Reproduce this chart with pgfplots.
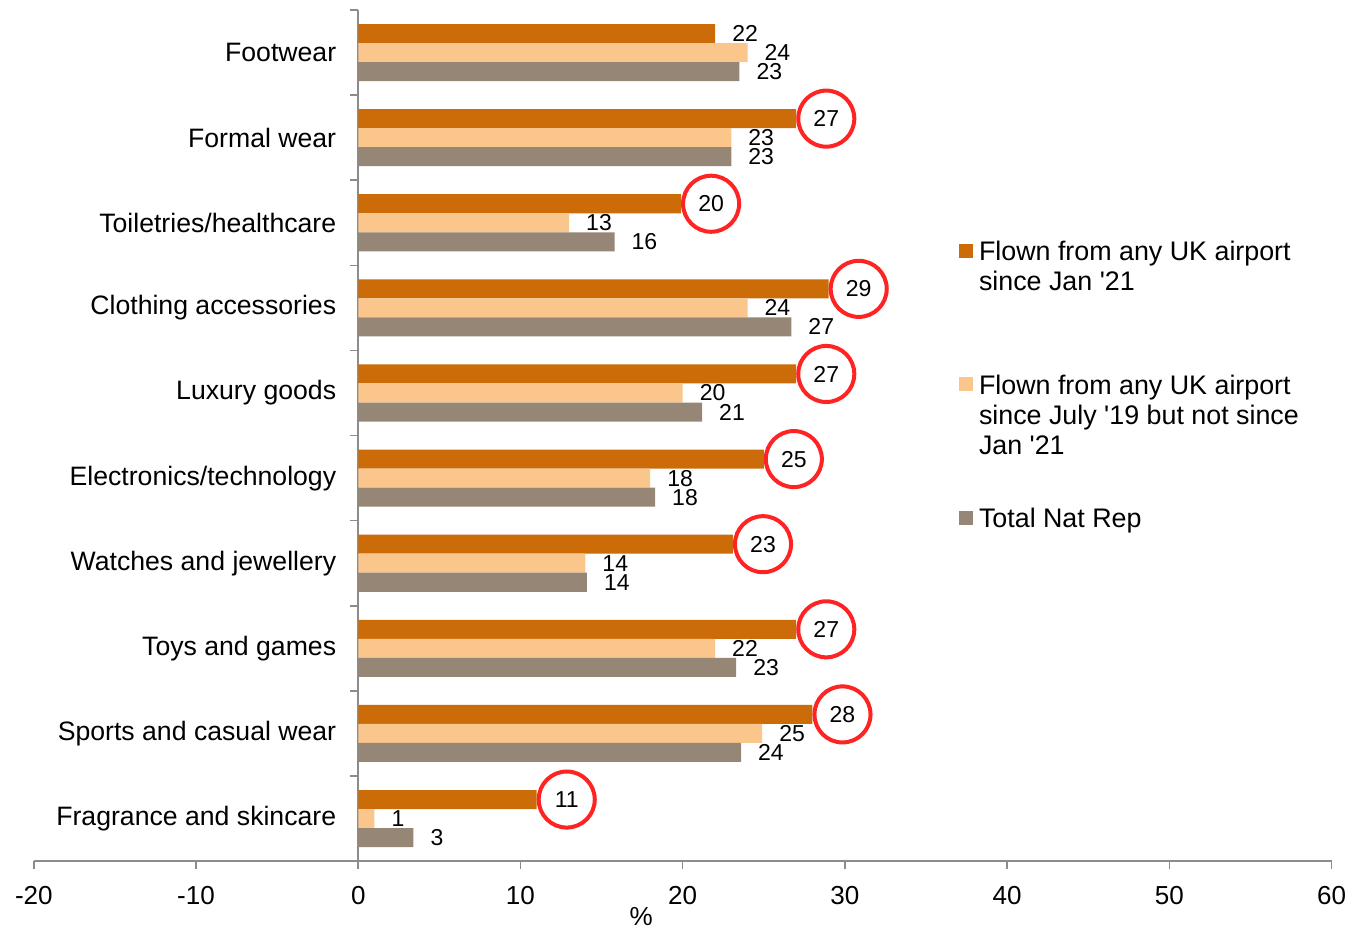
\documentclass[border=0pt]{standalone}
\usepackage{fontspec}
\setmainfont{Liberation Sans}[Ligatures=TeXOff]
\usepackage{pgfplots}
\usepackage{pgfplotstable}
\pgfplotsset{compat=1.18}

\definecolor{sinceJan}{HTML}{CC6C08}
\definecolor{sinceJul}{HTML}{FAC68C}
\definecolor{natrep}{HTML}{958676}
\definecolor{ring}{HTML}{FF2424}
\definecolor{axisgray}{HTML}{8C8C8C}

% idx 0 = bottom category (Fragrance), 9 = top (Footwear)
\pgfplotstableread{
idx val  lab circ
0   11   11  1
1   28   28  1
2   27   27  1
3   23.1 23  1
4   25   25  1
5   27   27  1
6   29   29  1
7   19.9 20  1
8   27   27  1
9   22   22  0
}\jan

\pgfplotstableread{
idx val  lab
0   1    1
1   24.9 25
2   22   22
3   14   14
4   18   18
5   20   20
6   24   24
7   13   13
8   23   23
9   24   24
}\jul

\pgfplotstableread{
idx val  lab
0   3.4  3
1   23.6 24
2   23.3 23
3   14.1 14
4   18.3 18
5   21.2 21
6   26.7 27
7   15.8 16
8   23   23
9   23.5 23
}\nat

\begin{document}
\begin{tikzpicture}
\begin{axis}[
    scale only axis, width=648pt, height=425pt,
    xbar, bar width=9.5pt,
    xmin=-20, xmax=60, ymin=-0.5, ymax=9.5,
    axis x line=bottom, axis y line=center,
    axis line style={-, draw=axisgray, line width=0.8pt},
    hide obscured x ticks=false, hide obscured y ticks=false,
    tick align=outside,
    xtick={-20,-10,...,60},
    major tick length=4pt, minor tick length=4pt,
    x tick style={draw=axisgray, line width=0.8pt},
    ytick={0,...,9},
    major y tick style={draw=none},
    minor ytick={-0.5,0.5,...,9.5},
    minor y tick style={draw=axisgray, line width=0.8pt},
    yticklabels={Fragrance and skincare,Sports and casual wear,Toys and games,Watches and jewellery,Electronics/technology,Luxury goods,Clothing accessories,Toiletries/healthcare,Formal wear,Footwear},
    yticklabel style={font=\fontsize{13.3}{15}\selectfont, xshift=-3.5pt},
    xticklabel style={font=\fontsize{13}{15}\selectfont, yshift=-5pt, inner xsep=0pt},
    /pgf/number format/assume math mode=true,
    xlabel={\%},
    xlabel style={at={(axis description cs:0.468,0)}, anchor=north, inner sep=0pt,
        yshift=-23pt, font=\fontsize{13}{15}\selectfont},
    legend style={at={(0.7126,0.7335)}, anchor=north west, draw=none, fill=none,
        font=\fontsize{13.4}{15}\selectfont, row sep=51.5pt, inner sep=0pt,
        cells={anchor=base west},
        /tikz/every odd column/.append style={column sep=1pt}},
    legend image code/.code={\fill[#1] (0pt,1.5pt) rectangle (7pt,8.5pt);},
    clip=false,
]
\addplot[fill=sinceJan, draw=none, bar shift=9.5pt,
    point meta=explicit symbolic,
    visualization depends on={\thisrow{circ} \as \circop},
    nodes near coords,
    every node near coord/.append style={circle, minimum size=28pt, inner sep=0pt,
        anchor=west, line width=2pt, draw=ring, draw opacity=\circop,
        text=black, font=\fontsize{11.5}{13}\selectfont}]
    table[x=val, y=idx, meta=lab] {\jan};
\addlegendentry{\parbox[t]{170pt}{Flown from any UK airport\\since Jan '21}}

\addplot[fill=sinceJul, draw=none, bar shift=0pt,
    point meta=explicit symbolic,
    nodes near coords,
    every node near coord/.append style={anchor=west, xshift=5pt, inner ysep=0pt,
        text=black, font=\fontsize{11.5}{13}\selectfont}]
    table[x=val, y=idx, meta=lab] {\jul};
\addlegendentry{\parbox[t]{170pt}{Flown from any UK airport\\since July '19 but not since\\Jan '21}}

\addplot[fill=natrep, draw=none, bar shift=-9.5pt,
    point meta=explicit symbolic,
    nodes near coords,
    every node near coord/.append style={anchor=west, xshift=5pt, inner ysep=0pt,
        text=black, font=\fontsize{11.5}{13}\selectfont}]
    table[x=val, y=idx, meta=lab] {\nat};
\addlegendentry{\parbox[t]{170pt}{Total Nat Rep}}
\end{axis}
\path ([xshift=-7.5pt]current bounding box.west);
\path (current axis.north) ++(0,5pt);
\path ([yshift=-2pt]current bounding box.south);
\end{tikzpicture}
\end{document}
